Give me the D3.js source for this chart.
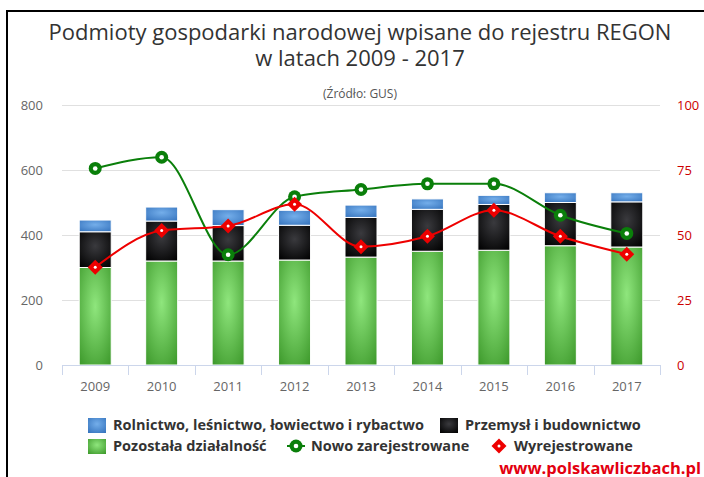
<!DOCTYPE html>
<html>
<head>
<meta charset="utf-8">
<script src="https://d3js.org/d3.v7.min.js"></script>
<style>
  body { margin: 0; background: #fff; }
  svg { display: block; font-family: "Open Sans", sans-serif; }
</style>
</head>
<body>
<svg id="chart" width="704" height="477"></svg>
<script>

YEARS		= ["2009", "2010", "2011", "2012", "2013", "2014", "2015", "2016", "2017"];
POZOSTALA	= [300, 320, 320, 323, 332, 350, 353, 367, 363];
PRZEMYSL	= [110, 123, 109, 107, 122, 129, 141, 133, 139];
ROLNICTWO	= [36, 43, 49, 46, 38, 32, 28, 30, 28];
NOWO		= [75.6, 79.9, 42.4, 64.7, 67.5, 69.7, 69.7, 57.6, 50.6];
WYREJ		= [37.6, 51.7, 53.5, 61.8, 45.5, 49.5, 59.5, 49.5, 42.6];
LEFT_TICKS	= [0, 200, 400, 600, 800];
RIGHT_TICKS	= [0, 25, 50, 75, 100];

var svg = d3.select("#chart");

// note: "top" is taken by window.top, so plot edges get their own names
var plotL = 62, plotR = 660, plotT = 105, plotB = 365;

var x = d3.scaleBand().domain(YEARS).range([plotL, plotR]).paddingInner(0).paddingOuter(0);
var yL = d3.scaleLinear().domain([0, 800]).range([plotB, plotT]);
var yR = d3.scaleLinear().domain([0, 100]).range([plotB, plotT]);
var barW = 32;
var cx = function(d) { return x(d) + x.bandwidth() / 2; };

// frame
svg.append("path")
	.attr("d", "M7,477 L7,11 L704,11")
	.attr("fill", "none")
	.attr("stroke", "#000")
	.attr("stroke-width", 2);

// gradients
var defs = svg.append("defs");
function grad(id, light, dark) {
	var g = defs.append("radialGradient")
		.attr("id", id)
		.attr("cx", "0.5").attr("cy", "0.4").attr("r", "0.75");
	g.append("stop").attr("offset", "0").attr("stop-color", light);
	g.append("stop").attr("offset", "1").attr("stop-color", dark);
}
grad("gGreen", "#8fe67d", "#3e9a2c");
grad("gBlack", "#3a3a3e", "#000000");
grad("gBlue", "#74aeea", "#3573bd");

// titles
svg.append("text").attr("x", 360).attr("y", 40).attr("text-anchor", "middle")
	.attr("font-size", 22).attr("fill", "#333")
	.text("Podmioty gospodarki narodowej wpisane do rejestru REGON");
svg.append("text").attr("x", 360).attr("y", 66).attr("text-anchor", "middle")
	.attr("font-size", 22).attr("fill", "#333")
	.text("w latach 2009 - 2017");
svg.append("text").attr("x", 360).attr("y", 98).attr("text-anchor", "middle")
	.attr("font-size", 12).attr("fill", "#555")
	.text("(Źródło: GUS)");

// grid
svg.append("g").selectAll("line").data(LEFT_TICKS.slice(1)).enter().append("line")
	.attr("x1", plotL).attr("x2", plotR)
	.attr("y1", function(d) { return yL(d) + 0.5; })
	.attr("y2", function(d) { return yL(d) + 0.5; })
	.attr("stroke", "#e0e0e0");

// axes labels
var axL = svg.append("g").attr("transform", "translate(" + (plotL - 19) + ",0)")
	.call(d3.axisLeft(yL).tickValues(LEFT_TICKS).tickSize(0).tickPadding(0));
axL.select(".domain").remove();
axL.selectAll("text").attr("font-size", 13).attr("fill", "#666").attr("font-family", "Open Sans");

var axR = svg.append("g").attr("transform", "translate(" + (plotR + 17) + ",0)")
	.call(d3.axisRight(yR).tickValues(RIGHT_TICKS).tickSize(0).tickPadding(0));
axR.select(".domain").remove();
axR.selectAll("text").attr("font-size", 13).attr("fill", "#cc0000").attr("font-family", "Open Sans");

var axB = svg.append("g").attr("transform", "translate(0," + (plotB + 18) + ")")
	.call(d3.axisBottom(x).tickSize(0).tickPadding(0));
axB.select(".domain").remove();
axB.selectAll("text").attr("font-size", 13).attr("fill", "#666").attr("font-family", "Open Sans")
	.attr("dy", "0.6em");

// stacked bars
var stackData = YEARS.map(function(y, i) {
	return { year: y, poz: POZOSTALA[i], prz: PRZEMYSL[i], rol: ROLNICTWO[i] };
});
var series = d3.stack().keys(["poz", "prz", "rol"])(stackData);
var fills = { poz: "url(#gGreen)", prz: "url(#gBlack)", rol: "url(#gBlue)" };

svg.append("g").selectAll("g").data(series).enter().append("g")
	.attr("fill", function(s) { return fills[s.key]; })
	.selectAll("rect").data(function(s) { return s; }).enter().append("rect")
	.attr("x", function(d) { return cx(d.data.year) - barW / 2; })
	.attr("y", function(d) { return yL(d[1]); })
	.attr("width", barW)
	.attr("height", function(d) { return yL(d[0]) - yL(d[1]); })
	.attr("stroke", "#fff")
	.attr("stroke-width", 1);

// x axis line and ticks
svg.append("line").attr("x1", plotL).attr("x2", plotR)
	.attr("y1", plotB + 0.5).attr("y2", plotB + 0.5)
	.attr("stroke", "#ccd6eb");
var bounds = YEARS.map(function(d) { return x(d); }).concat([plotR]);
svg.append("g").selectAll("line").data(bounds).enter().append("line")
	.attr("x1", function(d) { return Math.round(d) + 0.5; })
	.attr("x2", function(d) { return Math.round(d) + 0.5; })
	.attr("y1", plotB).attr("y2", plotB + 10)
	.attr("stroke", "#ccd6eb");

// lines
var lineGen = d3.line()
	.x(function(d) { return cx(d.year); })
	.y(function(d) { return yR(d.v); })
	.curve(d3.curveMonotoneX);

var nowoData = YEARS.map(function(y, i) { return { year: y, v: NOWO[i] }; });
var wyrData = YEARS.map(function(y, i) { return { year: y, v: WYREJ[i] }; });

var GREEN = "#0a7f0a", RED = "#ee0000";
var diamond = "M0,-7.5 L7.5,0 L0,7.5 L-7.5,0 Z";

function circleMark(g, px, py) {
	g.append("circle").attr("cx", px).attr("cy", py).attr("r", 6.5).attr("fill", GREEN);
	g.append("circle").attr("cx", px).attr("cy", py).attr("r", 2.3).attr("fill", "#fff");
}
function diamondMark(g, px, py) {
	g.append("path").attr("d", diamond).attr("transform", "translate(" + px + "," + py + ")")
		.attr("fill", RED);
	g.append("circle").attr("cx", px).attr("cy", py).attr("r", 1.5).attr("fill", "#fff");
}

svg.append("path").datum(nowoData).attr("d", lineGen)
	.attr("fill", "none").attr("stroke", GREEN).attr("stroke-width", 2);
var gm = svg.append("g");
nowoData.forEach(function(d) { circleMark(gm, cx(d.year), yR(d.v)); });

svg.append("path").datum(wyrData).attr("d", lineGen)
	.attr("fill", "none").attr("stroke", RED).attr("stroke-width", 2);
var rm = svg.append("g");
wyrData.forEach(function(d) { diamondMark(rm, cx(d.year), yR(d.v)); });

// legend
var legend = svg.append("g").attr("font-size", 14.5).attr("font-weight", "bold").attr("fill", "#333");

function legendBox(xp, yp, fill, label) {
	legend.append("rect").attr("x", xp).attr("y", yp - 7).attr("width", 18).attr("height", 15)
		.attr("fill", fill);
	legend.append("text").attr("x", xp + 25).attr("y", yp + 5).text(label);
}
function legendLine(xp, yp, color, shape, label) {
	if (shape == "circle") {
		legend.append("line").attr("x1", xp - 9).attr("x2", xp + 9).attr("y1", yp).attr("y2", yp)
			.attr("stroke", color).attr("stroke-width", 2);
		circleMark(legend, xp, yp);
	} else {
		diamondMark(legend, xp, yp);
	}
	legend.append("text").attr("x", xp + 15).attr("y", yp + 5).text(label);
}

legendBox(88, 425, "url(#gBlue)", "Rolnictwo, leśnictwo, łowiectwo i rybactwo");
legendBox(440, 425, "url(#gBlack)", "Przemysł i budownictwo");
legendBox(88, 446, "url(#gGreen)", "Pozostała działalność");
legendLine(296, 446, GREEN, "circle", "Nowo zarejestrowane");
legendLine(499, 446, RED, "diamond", "Wyrejestrowane");

// watermark
svg.append("text").attr("x", 701).attr("y", 473.5).attr("text-anchor", "end")
	.attr("font-size", 16.5).attr("font-weight", "bold").attr("fill", "#e3000f")
	.text("www.polskawliczbach.pl");

</script>
</body>
</html>
